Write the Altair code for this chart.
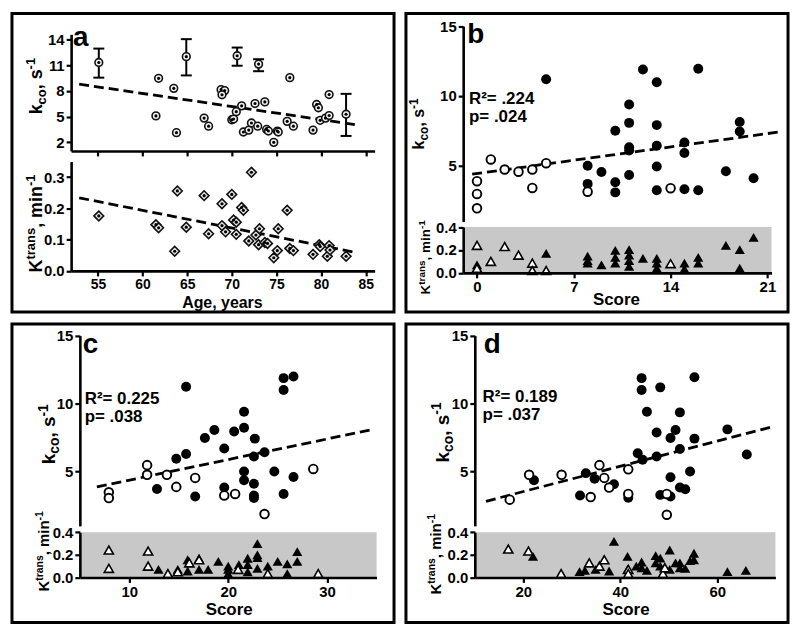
import altair as alt
import pandas as pd

FONT = "Liberation Sans"
W, H = 384, 300
SX, SY = W / 394.0, H / 308.5

# ---------------- panel a data ----------------
A_AGE = [61.8, 61.5, 63.5, 63.8, 66.9, 67.4, 68.8, 69.2, 68.9, 70.0, 70.2, 70.5, 71.1, 71.3, 71.9, 72.2, 72.6,
         72.9, 73.7, 73.9, 74.1, 74.7, 75.1, 75.2, 76.2, 76.5, 76.9, 79.1, 79.5, 79.7, 79.9, 80.5, 80.9, 80.9]
A_KCO = [9.47, 5.09, 8.3, 3.13, 4.83, 3.89, 8.15, 8.04, 7.55, 4.64, 4.72, 5.58, 6.26, 3.21, 3.43, 4.26, 6.53,
         3.89, 6.72, 3.51, 3.32, 2.0, 3.32, 3.21, 4.45, 9.55, 3.89, 3.43, 6.42, 6.04, 4.57, 4.83, 5.13, 7.58]
A_ERR_AGE = [55.1, 64.9, 70.6, 73.0, 82.8]
A_ERR_MID = [11.32, 12.0, 12.11, 11.13, 5.28]
A_ERR_LO = [9.55, 9.81, 10.94, 10.3, 2.75]
A_ERR_HI = [12.94, 14.04, 13.06, 11.7, 7.66]
A_TAGE = [55.1, 61.5, 61.8, 63.6, 63.9, 64.9, 66.9, 67.4, 68.9, 68.9, 69.3, 70.0, 70.2, 70.5, 70.5, 71.1, 71.3,
          72.2, 71.9, 72.7, 73.0, 73.1, 73.7, 74.0, 74.7, 75.1, 75.2, 76.2, 76.5, 76.9, 79.1, 79.8, 79.9, 80.7,
          80.9, 81.0, 82.8]
A_KTRANS = [0.176, 0.148, 0.138, 0.063, 0.256, 0.140, 0.241, 0.119, 0.215, 0.145, 0.125, 0.245, 0.163, 0.156,
            0.117, 0.203, 0.194, 0.316, 0.096, 0.115, 0.084, 0.135, 0.091, 0.088, 0.042, 0.065, 0.135, 0.194,
            0.072, 0.065, 0.053, 0.084, 0.078, 0.047, 0.081, 0.067, 0.047]
A_FITK_X = [52.9, 83.8]
A_FITK_Y = [8.79, 4.08]
A_FITT_X = [52.9, 83.7]
A_FITT_Y = [0.234, 0.060]
A_XTICKS = [55, 60, 65, 70, 75, 80, 85]
A_YTICKS_K = [2, 5, 8, 11, 14]
A_YTICKS_T = [0.0, 0.1, 0.2, 0.3]

# ---------------- panel b data ----------------
B_OPEN_X = [0, 0, 0, 1, 2, 3, 4, 4, 5, 8, 14]
B_OPEN_Y = [3.89, 2.98, 1.95, 5.45, 4.73, 4.57, 4.73, 3.41, 5.18, 3.14, 3.39]
B_FILL_X = [5, 8, 8, 9, 10, 10, 10, 11, 11, 11, 11, 11, 12, 13, 13, 13, 13, 13, 15, 15, 15, 16, 16, 18, 19, 19, 20]
B_FILL_Y = [11.2, 5.0, 3.70, 4.55, 7.5, 3.82, 3.09, 9.39, 8.07, 6.32, 6.09, 4.34, 11.89, 10.98, 7.91, 6.43, 4.95,
            3.25, 6.66, 5.91, 3.32, 11.95, 3.25, 4.61, 8.14, 7.45, 4.11]
B_TOPEN_X = [0, 0, 1, 2, 3, 4, 4, 5, 14]
B_TOPEN_Y = [0.24, 0.04, 0.10, 0.23, 0.155, 0.085, 0.02, 0.02, 0.08]
B_TFILL_X = [0, 5, 8, 8, 8, 9, 10, 10, 10, 11, 11, 11, 11, 12, 13, 13, 13, 15, 15, 16, 16, 18, 19, 19, 20]
B_TFILL_Y = [0.07, 0.17, 0.146, 0.107, 0.085, 0.07, 0.197, 0.135, 0.085, 0.203, 0.155, 0.107, 0.056, 0.127, 0.127,
             0.085, 0.042, 0.085, 0.034, 0.135, 0.085, 0.24, 0.203, 0.042, 0.31]
B_FIT_X = [-0.35, 22.07]
B_FIT_Y = [4.39, 7.45]
B_XTICKS = [0, 7, 14, 21]

# ---------------- panel c data ----------------
C_OPEN_X = [7.93, 7.93, 11.8, 11.8, 13.8, 14.75, 16.66, 19.6, 20.7, 23.67, 28.6]
C_OPEN_Y = [3.47, 3.05, 5.47, 4.76, 4.76, 3.87, 4.53, 3.24, 3.35, 1.87, 5.19]
C_FILL_X = [15.74, 12.8, 14.75, 15.74, 16.66, 17.64, 18.6, 19.6, 20.6, 21.6, 21.6, 22.69, 22.6, 21.6, 21.6, 19.6,
            22.6, 22.6, 22.6, 23.67, 24.66, 25.6, 25.6, 25.6, 26.6, 26.6]
C_FILL_Y = [11.24, 3.71, 5.94, 6.29, 3.16, 7.47, 8.06, 6.69, 7.94, 9.4, 8.22, 7.42, 6.1, 5.0, 4.36, 3.82, 4.1, 3.24,
            3.05, 6.41, 5.0, 3.35, 11.87, 11.0, 11.99, 4.6]
C_TOPEN_X = [7.93, 7.93, 11.9, 11.9, 13.9, 14.9, 16.07, 17.05, 21.0, 24.0, 29.1]
C_TOPEN_Y = [0.243, 0.08, 0.234, 0.10, 0.034, 0.05, 0.129, 0.157, 0.071, 0.034, 0.034]
C_TFILL_X = [12.95, 14.9, 15.9, 15.9, 17.05, 17.05, 17.97, 19.0, 20.0, 20.0, 20.0, 21.08, 21.97, 21.97, 21.97,
             22.95, 22.95, 22.95, 22.95, 24.0, 25.0, 25.97, 25.97, 26.98, 26.98]
C_TFILL_Y = [0.071, 0.071, 0.157, 0.057, 0.17, 0.071, 0.071, 0.143, 0.1, 0.071, 0.034, 0.114, 0.17, 0.114, 0.05,
             0.3, 0.2, 0.177, 0.08, 0.1, 0.143, 0.12, 0.034, 0.229, 0.143]
C_FIT_X = [6.72, 34.66]
C_FIT_Y = [3.87, 8.1]
C_XTICKS = [10, 20, 30]

# ---------------- panel d data ----------------
D_OPEN_X = [17.2, 21.2, 27.9, 33.9, 35.7, 36.7, 37.7, 41.65, 41.65, 49.6, 49.6]
D_OPEN_Y = [2.93, 4.76, 4.76, 3.12, 5.47, 4.53, 3.82, 5.16, 3.35, 3.35, 1.82]
D_FILL_X = [22.2, 31.7, 32.9, 34.7, 38.7, 41.65, 43.6, 44.6, 44.4, 44.4, 45.5, 47.5, 47.5, 48.25, 48.25, 50.36,
            50.36, 50.36, 51.4, 52.3, 52.3, 52.3, 53.4, 54.4, 55.3, 55.3, 62.1, 66.1]
D_FILL_Y = [4.36, 3.24, 4.88, 4.46, 4.06, 3.07, 6.34, 5.87, 11.87, 11.0, 9.4, 7.87, 6.1, 11.19, 3.28, 7.47, 4.58,
            3.16, 8.06, 9.35, 6.65, 3.82, 3.7, 5.0, 11.94, 7.42, 8.1, 6.25]
D_TOPEN_X = [16.9, 21.06, 27.8, 33.6, 35.7, 36.7, 41.65, 41.65, 48.8, 49.2]
D_TOPEN_Y = [0.251, 0.234, 0.034, 0.129, 0.1, 0.157, 0.071, 0.034, 0.034, 0.086]
D_TFILL_X = [22.0, 31.6, 32.7, 34.9, 37.7, 38.7, 41.5, 41.5, 43.3, 44.4, 44.4, 45.5, 47.3, 47.3, 48.25, 48.25,
             50.2, 50.2, 51.4, 52.3, 52.3, 53.4, 54.4, 55.2, 55.2, 62.1, 65.9]
D_TFILL_Y = [0.186, 0.051, 0.063, 0.071, 0.057, 0.32, 0.186, 0.071, 0.1, 0.137, 0.086, 0.063, 0.194, 0.129, 0.171,
             0.1, 0.243, 0.071, 0.129, 0.129, 0.086, 0.08, 0.149, 0.214, 0.157, 0.051, 0.063]
D_FIT_X = [12.3, 71.35]
D_FIT_Y = [2.81, 8.29]
D_XTICKS = [20, 40, 60]

KCO_DOMAIN = [1, 15]
KCO_TICKS = [5, 10, 15]
KT_DOMAIN = [0, 0.4]
KT_TICKS = [0.0, 0.2, 0.4]
BAND_TOP = 0.4

# ---------------- helpers ----------------
ONE = pd.DataFrame({"k": [0]})
AW = {'k': 556, 'c': 556, 'o': 611, ',': 278, ' ': 278, 's': 556, '-': 333, '1': 556, 'K': 722, 't': 333,
      'r': 389, 'a': 556, 'n': 611, 'm': 889, 'i': 278}


def tw(s, size):
    return sum(AW.get(ch, 556) for ch in s) / 1000.0 * size


def ix(p, rx):
    return (rx - p["ox"]) * SX


def iy(p, ry):
    return (ry - p["oy"]) * SY


def sc(domain, rng):
    return alt.Scale(domain=list(domain), range=list(rng), nice=False, zero=False)


def axis_kw(size=15):
    return dict(grid=False, domainColor="black", domainWidth=2.6, tickColor="black", tickWidth=2.2, tickSize=5,
                labelFont=FONT, labelFontWeight="bold", labelFontSize=size, labelColor="black", labelPadding=2,
                title=None, zindex=1, labelFlush=False, labelOverlap=False)


def y_axis(p, values, fmt, size=15):
    kw = axis_kw(size)
    kw.update(orient="left", offset=-ix(p, p["axis_x"]), values=values, format=fmt)
    return alt.Axis(**kw)


def x_axis(p, values, ry, labels=True, size=15):
    kw = axis_kw(size)
    kw.update(orient="bottom", offset=iy(p, ry) - H, values=values, labels=labels, format="d")
    return alt.Axis(**kw)


def scatter(xv, yv, xs, ys, shape, size, fill, stroke, sw, xaxis=None, yaxis=None):
    df = pd.DataFrame({"x": xv, "y": yv})
    return alt.Chart(df).mark_point(shape=shape, size=size, filled=True, fill=fill, stroke=stroke,
                                    strokeWidth=sw, opacity=1).encode(
        x=alt.X("x:Q", scale=xs, axis=xaxis), y=alt.Y("y:Q", scale=ys, axis=yaxis))


def fit(xv, yv, xs, ys, sw=2.8):
    df = pd.DataFrame({"x": xv, "y": yv})
    return alt.Chart(df).mark_line(color="black", strokeWidth=sw, strokeDash=[10, 5]).encode(
        x=alt.X("x:Q", scale=xs, axis=None), y=alt.Y("y:Q", scale=ys, axis=None))


def band(xd, xs, ys):
    df = pd.DataFrame({"x0": [xd[0]], "x1": [xd[1]], "y0": [0.0], "y1": [BAND_TOP]})
    return alt.Chart(df).mark_rect(color="#c8c8c8").encode(
        x=alt.X("x0:Q", scale=xs, axis=None), x2="x1:Q",
        y=alt.Y("y0:Q", scale=ys, axis=None), y2="y1:Q")


def txt(p, s, rx, ry, size, align="left", baseline="alphabetic"):
    return alt.Chart(ONE).mark_text(text=s, font=FONT, fontSize=size, fontWeight="bold", color="black",
                                    align=align, baseline=baseline).encode(
        x=alt.value(ix(p, rx)), y=alt.value(iy(p, ry)))


def vtitle(p, pieces, base_rx, center_ry):
    base = pieces[0][1]
    total = sum(tw(t, s) for t, s, k in pieces)
    bx = ix(p, base_rx)
    y = iy(p, center_ry) + total / 2.0
    out = []
    for t, s, k in pieces:
        x = bx + (0.22 * base if k == "sub" else (-0.40 * base if k == "sup" else 0))
        out.append(alt.Chart(ONE).mark_text(text=t, angle=270, align="left", baseline="alphabetic", font=FONT,
                                            fontSize=s, fontWeight="bold", color="black").encode(
            x=alt.value(x), y=alt.value(y)))
        y -= tw(t, s)
    return out


def kco_title(b, s):
    return [("k", b, "n"), ("co", s, "sub"), (", s", b, "n"), ("-1", s, "sup")]


def kt_title(b, s):
    return [("K", b, "n"), ("trans", s, "sup"), (", min", b, "n"), ("-1", s, "sup")]


def finish(layers):
    return alt.layer(*layers).resolve_scale(x="independent", y="independent").resolve_axis(
        x="independent", y="independent").properties(width=W, height=H)


# ---------------- panel a ----------------
def panel_a():
    p = dict(ox=2, oy=2, axis_x=63)
    xs = sc([52, 86], [ix(p, 63), ix(p, 376)])
    uys = sc([1, 14.6], [iy(p, 144), iy(p, 23.5)])
    lys = sc([0, 0.35], [iy(p, 268), iy(p, 155)])
    err = pd.DataFrame({"x": A_ERR_AGE, "lo": A_ERR_LO, "hi": A_ERR_HI})
    caps = pd.DataFrame({"x": A_ERR_AGE + A_ERR_AGE, "y": A_ERR_LO + A_ERR_HI})
    layers = [
        alt.Chart(err).mark_rule(color="black", strokeWidth=2).encode(
            x=alt.X("x:Q", scale=xs, axis=None), y=alt.Y("lo:Q", scale=uys, axis=None), y2="hi:Q"),
        alt.Chart(caps).mark_tick(orient="horizontal", size=11, thickness=2, color="black", opacity=1).encode(
            x=alt.X("x:Q", scale=xs, axis=None), y=alt.Y("y:Q", scale=uys, axis=None)),
        fit(A_FITK_X, A_FITK_Y, xs, uys),
        scatter(A_AGE + A_ERR_AGE, A_KCO + A_ERR_MID, xs, uys, "circle", 60, "#f2f2f2", "#111", 1.6,
                xaxis=x_axis(p, A_XTICKS, 144, labels=False), yaxis=y_axis(p, A_YTICKS_K, "d")),
        scatter(A_AGE + A_ERR_AGE, A_KCO + A_ERR_MID, xs, uys, "circle", 10, "black", "black", 0),
        fit(A_FITT_X, A_FITT_Y, xs, lys),
        scatter(A_TAGE, A_KTRANS, xs, lys, "diamond", 95, "#e6e6e6", "#111", 1.6,
                xaxis=x_axis(p, A_XTICKS, 268, size=14), yaxis=y_axis(p, A_YTICKS_T, ".1f")),
        scatter(A_TAGE, A_KTRANS, xs, lys, "circle", 10, "black", "black", 0),
        txt(p, "a", 73, 36, 28, align="center"),
        txt(p, "Age, years", 219, 301.5, 16, align="center", baseline="middle"),
    ]
    layers += vtitle(p, kco_title(18, 13), 33, 77)
    layers += vtitle(p, kt_title(18, 13), 33, 219)
    return finish(layers)


# ---------------- panels b, c, d ----------------
def score_panel(p, d):
    xs = sc(p["xd"], [ix(p, p["xr"][0]), ix(p, p["xr"][1])])
    uys = sc(KCO_DOMAIN, [iy(p, p["uy"][0]), iy(p, p["uy"][1])])
    lys = sc(KT_DOMAIN, [iy(p, p["ly"][0]), iy(p, p["ly"][1])])
    layers = [
        band(p["xd"], xs, lys),
        fit(d["fit_x"], d["fit_y"], xs, uys),
        scatter(d["fill_x"], d["fill_y"], xs, uys, "circle", 100, "black", "black", 0,
                yaxis=y_axis(p, KCO_TICKS, "d")),
        scatter(d["open_x"], d["open_y"], xs, uys, "circle", 75, "white", "black", 1.9),
        scatter(d["tfill_x"], d["tfill_y"], xs, lys, "triangle-up", 105, "black", "black", 0,
                xaxis=x_axis(p, d["xticks"], p["ly"][0]), yaxis=y_axis(p, KT_TICKS, ".1f")),
        scatter(d["topen_x"], d["topen_y"], xs, lys, "triangle-up", 85, "white", "black", 1.6),
        txt(p, d["letter"], p["letter"][0], p["letter"][1], 28, align="center"),
        txt(p, d["r2"], p["r2"][0], p["r2"][1], 17),
        txt(p, d["pv"], p["r2"][0], p["r2"][2], 17),
        txt(p, "Score", p["score"][0], p["score"][1], 17, align="center", baseline="middle"),
    ]
    layers += vtitle(p, kco_title(*p["kco_font"]), p["kco_pos"][0], p["kco_pos"][1])
    layers += vtitle(p, kt_title(*p["kt_font"]), p["kt_pos"][0], p["kt_pos"][1])
    return finish(layers)


PB = dict(ox=403, oy=2, axis_x=462, xd=[-1, 21.3], xr=[462, 780], uy=[217, 15], ly=[270, 222.7],
          letter=(475, 32), r2=(468, 95.5, 114), score=(620, 298),
          kco_font=(16, 12), kco_pos=(421.7, 116), kt_font=(13.5, 10), kt_pos=(427.7, 254))
PC = dict(ox=2, oy=318, axis_x=72, xd=[5, 35], xr=[72, 378], uy=[526.7, 330], ly=[580, 533.3],
          letter=(83, 348), r2=(77, 400.5, 419), score=(226, 614),
          kco_font=(19, 14), kco_pos=(46.7, 432), kt_font=(15, 10.5), kt_pos=(40, 553))
PD = dict(ox=404, oy=318, axis_x=475, xd=[10, 72], xr=[475, 785], uy=[526.7, 330], ly=[580, 533.3],
          letter=(493, 348), r2=(483, 399, 417), score=(631, 614),
          kco_font=(19, 14), kco_pos=(448, 430), kt_font=(15, 10.5), kt_pos=(440, 556))

DB = dict(open_x=B_OPEN_X, open_y=B_OPEN_Y, fill_x=B_FILL_X, fill_y=B_FILL_Y, topen_x=B_TOPEN_X,
          topen_y=B_TOPEN_Y, tfill_x=B_TFILL_X, tfill_y=B_TFILL_Y, fit_x=B_FIT_X, fit_y=B_FIT_Y,
          xticks=B_XTICKS, letter="b", r2="R²= .224", pv="p= .024")
DC = dict(open_x=C_OPEN_X, open_y=C_OPEN_Y, fill_x=C_FILL_X, fill_y=C_FILL_Y, topen_x=C_TOPEN_X,
          topen_y=C_TOPEN_Y, tfill_x=C_TFILL_X, tfill_y=C_TFILL_Y, fit_x=C_FIT_X, fit_y=C_FIT_Y,
          xticks=C_XTICKS, letter="c", r2="R²= 0.225", pv="p= .038")
DD = dict(open_x=D_OPEN_X, open_y=D_OPEN_Y, fill_x=D_FILL_X, fill_y=D_FILL_Y, topen_x=D_TOPEN_X,
          topen_y=D_TOPEN_Y, tfill_x=D_TFILL_X, tfill_y=D_TFILL_Y, fit_x=D_FIT_X, fit_y=D_FIT_Y,
          xticks=D_XTICKS, letter="d", r2="R²= 0.189", pv="p= .037")

chart = alt.vconcat(
    alt.hconcat(panel_a(), score_panel(PB, DB), spacing=8),
    alt.hconcat(score_panel(PC, DC), score_panel(PD, DD), spacing=8),
    spacing=8,
).properties(padding=2, background="white").configure_view(stroke="black", strokeWidth=3)

chart.save("out.html", embed_options={"renderer": "svg", "actions": False})
